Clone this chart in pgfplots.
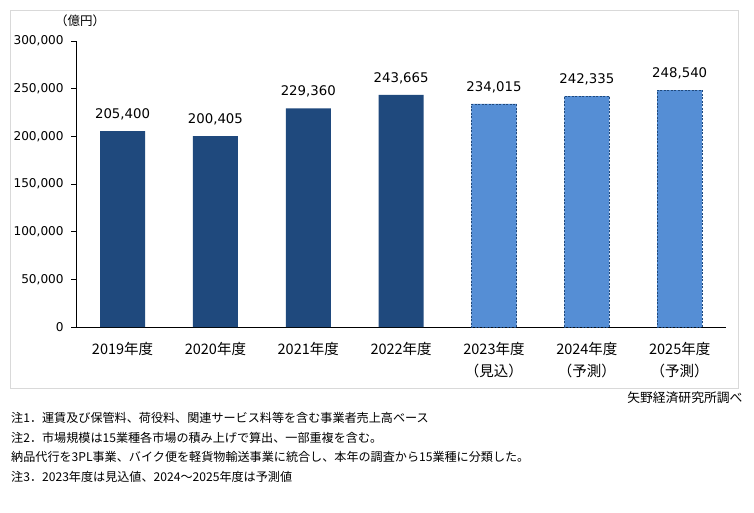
\documentclass[border=0pt]{standalone}
\usepackage{fontspec}
\setmainfont{DejaVu Sans}
\newfontfamily\jp{Noto Sans CJK JP}
\usepackage{pgfplots}
\pgfplotsset{compat=1.18}
\definecolor{darkbar}{HTML}{1F497D}
\definecolor{lightbar}{HTML}{558ED5}
\definecolor{framegray}{HTML}{D9D9D9}
\begin{document}
\begin{tikzpicture}[x=1pt,y=1pt]
\path[use as bounding box, fill=white] (0,0) rectangle (754,512);
\draw[framegray] (10,124) rectangle (738,502);
\begin{axis}[
  at={(82,194)}, anchor=south west,
  scale only axis, width=650pt, height=286pt,
  xmin=-0.5, xmax=6.5, ymin=0, ymax=300000,
  axis x line*=bottom, axis y line*=left,
  axis line style={black, line width=0.9pt},
  ytick={0,50000,100000,150000,200000,250000,300000},
  /pgf/number format/fixed,
  /pgf/number format/1000 sep={,},
  /pgf/number format/assume math mode=true,
  yticklabel style={font=\fontsize{12.1}{13}\selectfont, xshift=-4pt},
  scaled y ticks=false,
  tick align=outside, ytick pos=left,
  major tick length=5pt,
  major tick style={black, line width=0.9pt},
  xtick={0,...,6},
  major x tick style={draw=none},
  xticklabels={{2019年度},{2020年度},{2021年度},{2022年度},{2023年度\\（見込）},{2024年度\\（予測）},{2025年度\\（予測）}},
  xticklabel style={font=\jp\fontsize{14.5}{22}\selectfont, align=center, anchor=north, yshift=-7pt},
  bar width=45pt,
  point meta=rawy,
  nodes near coords={\pgfmathprintnumber[fixed,precision=0,1000 sep={,}]{\pgfplotspointmeta}},
  every node near coord/.append style={font=\fontsize{13.3}{15}\selectfont, anchor=south, yshift=7.5pt},
  clip=false,
]
\addplot[ybar, bar shift=0pt, fill=darkbar, draw=none] coordinates {
  (0,205400) (1,200405) (2,229360) (3,243665)
};
\addplot[ybar, bar shift=0pt, fill=lightbar, draw=darkbar, dashed, dash pattern=on 2pt off 1.5pt, line width=0.6pt] coordinates {
  (4,234015) (5,242335) (6,248540)
};
\end{axis}
\node[font=\jp\fontsize{12.5}{14}\selectfont] at (80,491) {（億円）};
\node[font=\jp\fontsize{12.8}{14}\selectfont, anchor=east] at (746,114) {矢野経済研究所調べ};
\begin{scope}[every node/.style={font=\jp\fontsize{12.1}{14}\selectfont, anchor=west, inner sep=0pt}]
\node at (11,94) {注1．運賃及び保管料、荷役料、関連サービス料等を含む事業者売上高ベース};
\node at (11,74.5) {注2．市場規模は15業種各市場の積み上げで算出、一部重複を含む。};
\node at (11,55) {納品代行を3PL事業、バイク便を軽貨物輸送事業に統合し、本年の調査から15業種に分類した。};
\node at (11,35.5) {注3．2023年度は見込値、2024～2025年度は予測値};
\end{scope}
\end{tikzpicture}
\end{document}
